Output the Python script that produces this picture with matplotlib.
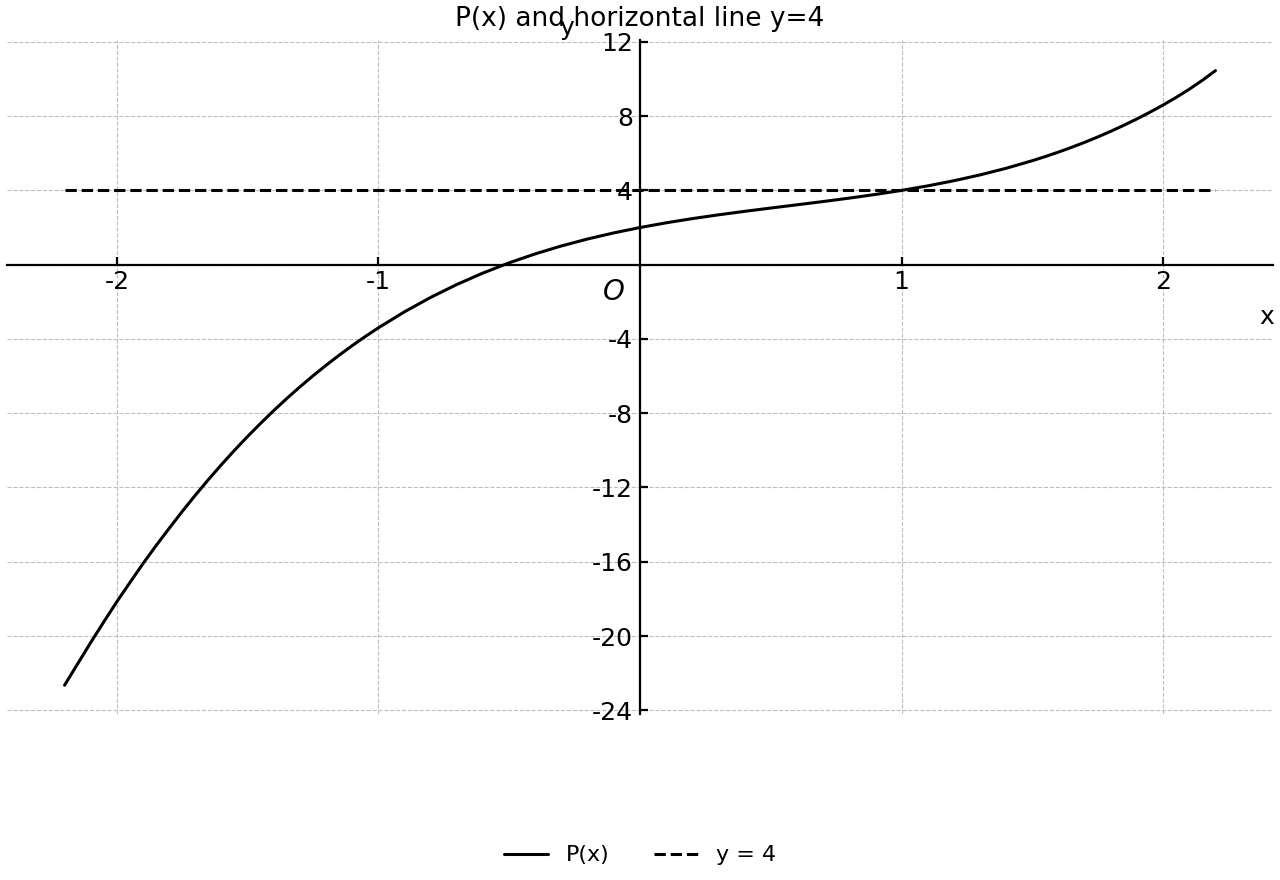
import matplotlib
matplotlib.use("Agg")
import matplotlib.pyplot as plt

plt.rcParams['axes.unicode_minus'] = False
plt.rcParams['font.family'] = ['DejaVu Sans']

# Data
x_vals = [-2.2, -2.15, -2.1, -2.05, -2.0, -1.95, -1.9, -1.85, -1.8, -1.75, -1.7,
          -1.65, -1.6, -1.55, -1.5, -1.45, -1.4, -1.35, -1.3, -1.25, -1.2, -1.15,
          -1.1, -1.05, -1.0, -0.9, -0.8, -0.7, -0.6, -0.5, -0.4, -0.3, -0.2, -0.1,
          0.0, 0.1, 0.2, 0.3, 0.4, 0.5, 0.6, 0.7, 0.8, 0.9, 1.0, 1.1, 1.2, 1.3,
          1.4, 1.5, 1.55, 1.6, 1.65, 1.7, 1.75, 1.8, 1.85, 1.9, 1.95, 2.0, 2.05,
          2.1, 2.15, 2.2]
p_vals = [-22.65, -21.5, -20.35, -19.24, -18.15, -17.12, -16.1, -15.13, -14.2,
          -13.29, -12.416, -11.575, -10.768, -9.993, -9.25, -8.538, -7.856, -7.203,
          -6.58, -5.984, -5.416, -4.874, -4.358, -3.867, -3.4, -2.536, -1.76, -1.066,
          -0.448, 0.1, 0.584, 1.01, 1.384, 1.712, 2.0, 2.254, 2.48, 2.684, 2.872,
          3.05, 3.224, 3.4, 3.584, 3.782, 4.0, 4.244, 4.52, 4.834, 5.192, 5.6,
          5.825, 6.064, 6.319, 6.59, 6.878, 7.184, 7.509, 7.852, 8.216, 8.6, 9.01,
          9.45, 9.93, 10.45]
hline_x = [-2.2, 2.2]
hline_y = [4, 4]
x_ticks = [-2, -1, 1, 2]
x_ticklabels = ['-2', '-1', '1', '2']
y_ticks = [12, 8, 4, -4, -8, -12, -16, -20, -24]
y_ticklabels = ['12', '8', '4', '-4', '-8', '-12', '-16', '-20', '-24']

fig = plt.figure(figsize=(12.8, 8.8), dpi=100)
ax = fig.add_axes([7/1280, 1 - 714/880, 1266/1280, 674/880])

ax.plot(x_vals, p_vals, color='black', lw=2.2, label='P(x)', solid_capstyle='round')
ax.plot(hline_x, hline_y, color='black', lw=2.2, ls='--', label='y = 4')

ax.set_xlim(-2.42, 2.42)
ax.set_ylim(-24.2, 12.1)

for s in ['top', 'right']:
    ax.spines[s].set_visible(False)
ax.spines['left'].set_position(('data', 0))
ax.spines['bottom'].set_position(('data', 0))
ax.spines['left'].set_linewidth(1.6)
ax.spines['bottom'].set_linewidth(1.6)

ax.set_xticks(x_ticks)
ax.set_xticklabels(x_ticklabels)
ax.set_yticks(y_ticks)
ax.set_yticklabels(y_ticklabels)
ax.tick_params(axis='both', direction='in', length=6, width=1.6, labelsize=18)
ax.tick_params(axis='y', pad=5)

# grid lines at all ticks incl. zero
for xv in [-2, -1, 0, 1, 2]:
    ax.axvline(xv, color='#bdbdbd', lw=0.8, ls='--', zorder=0)
for yv in y_ticks + [0]:
    ax.axhline(yv, color='#bdbdbd', lw=0.8, ls='--', zorder=0)

ax.set_xlabel('x', fontsize=18, va='center', ha='center')
ax.xaxis.set_label_coords(0.995, 0.589)
ax.set_ylabel('y', fontsize=18, rotation=0, va='center', ha='center')
ax.yaxis.set_label_coords(0.442, 1.018)

ax.text(-0.1, -1.45, 'O', fontsize=20, style='italic', ha='center', va='center')

fig.text(0.5, 1 - 19/880, 'P(x) and horizontal line y=4', fontsize=19,
         ha='center', va='center')

fig.legend(loc='lower center', ncol=2, frameon=False, fontsize=16,
           bbox_to_anchor=(0.5, -0.006), columnspacing=2.0)

fig.savefig('out.png', dpi=100)
